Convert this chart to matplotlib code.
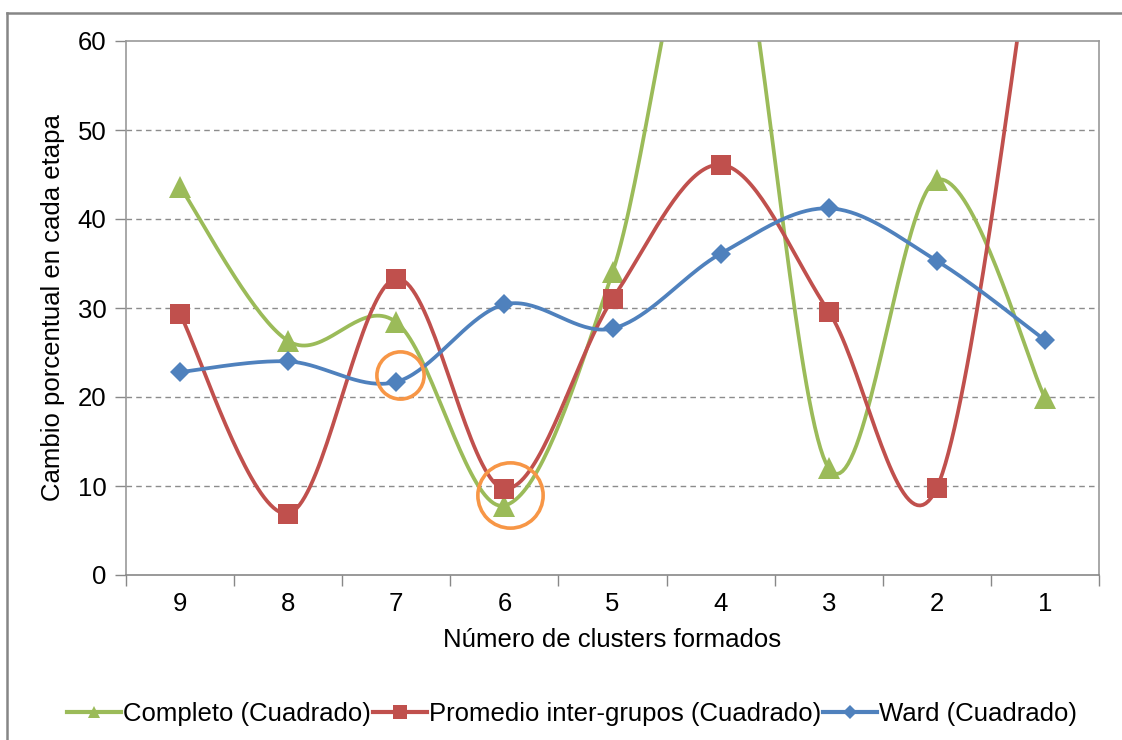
"""Percent change per clustering step, Excel-style smoothed lines."""

import numpy as np
import matplotlib
matplotlib.use("Agg")
import matplotlib.pyplot as plt
from matplotlib.lines import Line2D

categories = ["9", "8", "7", "6", "5", "4", "3", "2", "1"]

completo = [43.6, 26.3, 28.4, 7.8, 34.0, 80.0, 12.0, 44.4, 19.9]
promedio = [29.3, 6.9, 33.3, 9.7, 31.0, 46.1, 29.6, 9.8, 82.0]
ward = [22.8, 24.0, 21.7, 30.4, 27.7, 36.1, 41.2, 35.3, 26.4]

series_labels = [
    "Completo (Cuadrado)",
    "Promedio inter-grupos (Cuadrado)",
    "Ward (Cuadrado)",
]

# highlighted spots: (category position, value, circle diameter in pt)
highlights = [(2.03, 22.5, 34), (3.05, 9.0, 47)]

GREEN = "#9BBB59"
RED = "#C0504D"
BLUE = "#4F81BD"
ORANGE = "#F79646"
N_SEG = 40


def smooth(values, n=N_SEG):
    """Catmull-Rom curve through the points (what Excel calls smoothed line)."""
    y = np.asarray(values, dtype=float)
    pts = np.column_stack([np.arange(len(y), dtype=float), y])
    padded = np.vstack([pts[0], pts, pts[-1]])
    t = np.linspace(0, 1, n)[:, None]
    out = []
    for i in range(len(pts) - 1):
        p0, p1, p2, p3 = padded[i], padded[i + 1], padded[i + 2], padded[i + 3]
        c1 = p1 + (p2 - p0) / 6
        c2 = p2 - (p3 - p1) / 6
        seg = (1 - t) ** 3 * p1 + 3 * (1 - t) ** 2 * t * c1 \
            + 3 * (1 - t) * t ** 2 * c2 + t ** 3 * p2
        out.append(seg if i == 0 else seg[1:])
    return np.vstack(out)


plt.rcParams["font.family"] = ["Liberation Sans", "DejaVu Sans"]
plt.rcParams["font.size"] = 18.5

fig = plt.figure(figsize=(11.22, 7.40), dpi=100)
ax = fig.add_axes([126 / 1122, 1 - 575 / 740, 973 / 1122, 534 / 740])

# outer chart border (only left/top are inside the picture)
fig.add_artist(Line2D([7 / 1122, 7 / 1122], [-0.1, 1 - 13 / 740],
                      transform=fig.transFigure, color="#868686", lw=1.8))
fig.add_artist(Line2D([7 / 1122, 1.1], [1 - 13 / 740, 1 - 13 / 740],
                      transform=fig.transFigure, color="#868686", lw=1.8))

styles = [
    (completo, GREEN, "^", 15.5, 9),
    (promedio, RED, "s", 14, 10),
    (ward, BLUE, "D", 10.5, 7.5),
]
handles = []
for (vals, color, marker, ms, leg_ms), label in zip(styles, series_labels):
    curve = smooth(vals)
    ax.plot(curve[:, 0], curve[:, 1], color=color, lw=2.7,
            marker=marker, markersize=ms, markevery=slice(0, None, N_SEG - 1),
            markeredgewidth=0, solid_capstyle="round")
    handles.append(Line2D([], [], color=color, lw=3, marker=marker,
                          markersize=leg_ms, markeredgewidth=0, label=label))

for cx, cy, d in highlights:
    ax.plot([cx], [cy], marker="o", markersize=d, markerfacecolor="none",
            markeredgecolor=ORANGE, markeredgewidth=2.6, linestyle="none")

ax.set_xlim(-0.5, len(categories) - 0.5)
ax.set_ylim(0, 60)
ax.set_xticks(range(len(categories)))
ax.set_xticklabels(categories)
ax.set_xticks(np.arange(-0.5, len(categories)), minor=True)
ax.tick_params(axis="x", which="major", length=0, pad=12)
ax.tick_params(axis="x", which="minor", length=8, color="#888888", width=1)
ax.set_yticks(range(0, 61, 10))
ax.tick_params(axis="y", length=8, color="#888888", width=1, pad=6)

for y in range(10, 60, 10):
    ax.axhline(y, color="#8c8c8c", lw=1, linestyle=(0, (4, 3)), zorder=0)
for s in ax.spines.values():
    s.set_color("#9a9a9a")
    s.set_linewidth(1.2)
ax.spines["bottom"].set_color("#888888")

ax.set_xlabel("Número de clusters formados", labelpad=9)
ax.set_ylabel("Cambio porcentual en cada etapa", labelpad=9)

fig.legend(handles=handles, loc="center",
           bbox_to_anchor=(572 / 1122, 1 - 714 / 740),
           ncol=3, frameon=False, handlelength=2.1, handletextpad=0.1,
           columnspacing=0.05, borderaxespad=0, fontsize=18.5)

plt.savefig("out.png", dpi=100)
plt.close()
